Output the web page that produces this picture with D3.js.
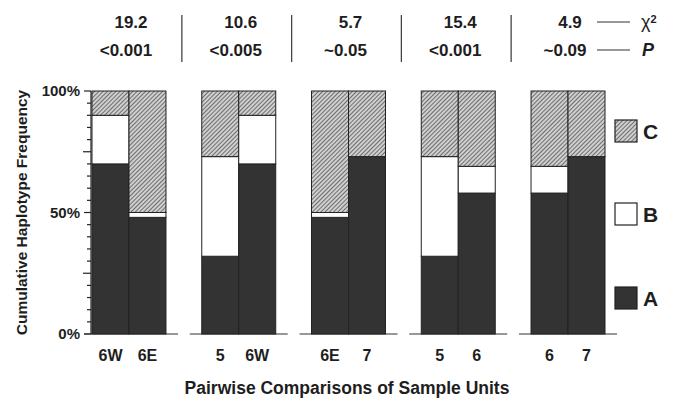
<!DOCTYPE html>
<html><head><meta charset="utf-8">
<script src="https://cdn.jsdelivr.net/npm/d3@7"></script>
<style>body{margin:0;background:#fff}svg{display:block}text{font-family:"Liberation Sans",Arial,sans-serif;font-weight:bold;fill:#1e1e1e}</style>
</head><body><svg id="c" width="674" height="407"></svg>
<script>
const units = ["6W","6E","5","6","7"];
const hapA = [70,48,32,58,73];
const hapB = [20,2,41,11,0];
const hapC = [10,50,27,31,27];
const pairs = [["6W","6E"],["5","6W"],["6E","7"],["5","6"],["6","7"]];
const chi2 = ["19.2","10.6","5.7","15.4","4.9"];
const pvals = ["<0.001","<0.005","~0.05","<0.001","~0.09"];
const yTicks = [0,50,100];
const haplotypes = ["A","B","C"];

const svg = d3.select("#c");
const defs = svg.append("defs");
const pat = defs.append("pattern").attr("id","hatch").attr("patternUnits","userSpaceOnUse")
  .attr("width",3).attr("height",3).attr("patternTransform","rotate(45)");
pat.append("rect").attr("width",3).attr("height",3).attr("fill","#cfcfcf");
pat.append("line").attr("x1",0).attr("y1",0).attr("x2",0).attr("y2",3).attr("stroke","#444").attr("stroke-width",1.4);

const fills = {A:"#333333", B:"#ffffff", C:"url(#hatch)"};
const byUnit = {};
units.forEach((u,i)=>{byUnit[u]={A:hapA[i],B:hapB[i],C:hapC[i]};});

const x = d3.scaleBand().domain(d3.range(pairs.length)).range([92,605]).paddingInner(0.326).paddingOuter(0);
const xi = d3.scaleBand().domain([0,1]).range([0,x.bandwidth()]);
const y = d3.scaleLinear().domain([0,100]).range([334,91]);

// y axis
const axis = svg.append("g");
axis.append("line").attr("x1",91).attr("x2",91).attr("y1",y(0)).attr("y2",y(100)).attr("stroke","#222").attr("stroke-width",1.2);
d3.range(0,101,5).forEach(v=>{
  const len = (v%50===0)?7:(v%25===0?8:4);
  axis.append("line").attr("x1",91-len).attr("x2",91).attr("y1",y(v)).attr("y2",y(v)).attr("stroke","#222").attr("stroke-width",1.2);
});
yTicks.forEach(v=>{
  axis.append("text").attr("x",80).attr("y",y(v)).attr("dy","0.36em").attr("text-anchor","end")
    .attr("font-size",15).text(v+"%");
});
svg.append("text").attr("transform",`translate(27,${(y(0)+y(100))/2}) rotate(-90)`).attr("text-anchor","middle")
  .attr("font-size",15.5).text("Cumulative Haplotype Frequency");

// baselines
pairs.forEach((p,i)=>{
  const x0 = i===0 ? 84 : x(i)-12;
  svg.append("line").attr("x1",x0).attr("x2",x(i)+x.bandwidth()+12).attr("y1",y(0)).attr("y2",y(0))
    .attr("stroke","#333").attr("stroke-width",1.2);
});

// bars
pairs.forEach((p,i)=>{
  const g = svg.append("g").attr("transform",`translate(${x(i)},0)`);
  p.forEach((u,j)=>{
    let cum = 0;
    haplotypes.forEach(h=>{
      const v = byUnit[u][h];
      if(v>0){
        g.append("rect").attr("x",xi(j)).attr("width",xi.bandwidth())
          .attr("y",y(cum+v)).attr("height",y(cum)-y(cum+v))
          .attr("fill",fills[h]).attr("stroke","#222").attr("stroke-width",1);
      }
      cum += v;
    });
    g.append("text").attr("x",xi(j)+xi.bandwidth()/2).attr("y",355).attr("dy","0.35em")
      .attr("text-anchor","middle").attr("font-size",16).text(u);
  });
  // stats
  const cx = x(i)+x.bandwidth()/2;
  svg.append("text").attr("x",cx+2).attr("y",22).attr("dy","0.35em").attr("text-anchor","middle").attr("font-size",17).text(chi2[i]);
  svg.append("text").attr("x",cx-3).attr("y",50).attr("dy","0.35em").attr("text-anchor","middle").attr("font-size",17).text(pvals[i]);
  if(i<pairs.length-1){
    const sx = (x(i)+x.bandwidth()+x(i+1))/2 - 2;
    svg.append("line").attr("x1",sx).attr("x2",sx).attr("y1",15).attr("y2",62).attr("stroke","#444").attr("stroke-width",1.3);
  }
});

// stat key
[22,50].forEach(yy=>{
  svg.append("line").attr("x1",597).attr("x2",630).attr("y1",yy).attr("y2",yy).attr("stroke","#333").attr("stroke-width",1.2);
});
const chiT = svg.append("text").attr("x",641).attr("y",22).attr("dy","0.35em").attr("font-size",18).style("font-weight","normal");
chiT.append("tspan").text("χ");
chiT.append("tspan").attr("dy","-0.5em").attr("font-size",11).style("font-weight","bold").text("2");
svg.append("text").attr("x",642).attr("y",50).attr("dy","0.35em").attr("font-size",18).style("font-style","italic").text("P");

// legend
const legY = {C:120, B:203, A:287};
["C","B","A"].forEach(h=>{
  svg.append("rect").attr("x",615).attr("y",legY[h]).attr("width",22).attr("height",22)
    .attr("fill",fills[h]).attr("stroke","#222").attr("stroke-width",1.2);
  svg.append("text").attr("x",643).attr("y",legY[h]+11).attr("dy","0.36em").attr("font-size",21).text(h);
});

// title
svg.append("text").attr("x",347).attr("y",388).attr("dy","0.35em").attr("text-anchor","middle").attr("font-size",17.5)
  .text("Pairwise Comparisons of Sample Units");
</script></body></html>
